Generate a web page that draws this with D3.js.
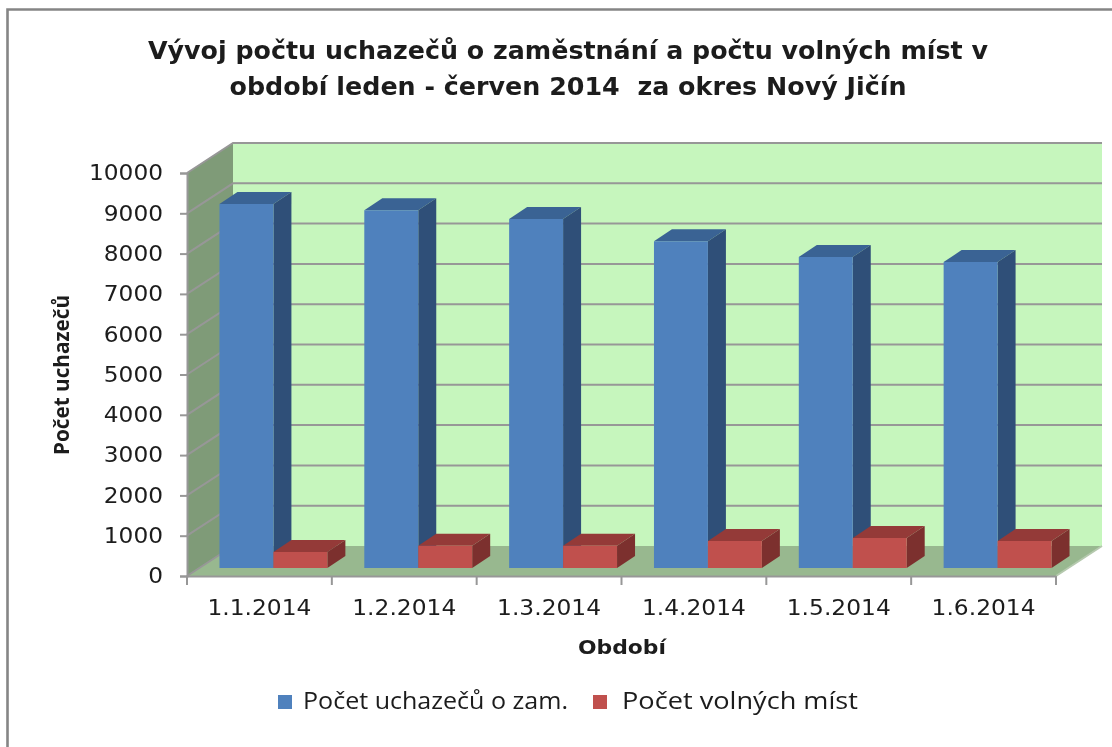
<!DOCTYPE html>
<html><head><meta charset="utf-8">
<script src="https://cdn.jsdelivr.net/npm/d3@7"></script>
<style>
html,body{margin:0;padding:0;background:#fff}
svg{display:block;filter:blur(0.5px)}
text{font-family:"DejaVu Sans",sans-serif;fill:#1c1c1c}
</style></head><body>
<svg id="c" width="1112" height="747"></svg>
<script>
const categories = ["1.1.2014","1.2.2014","1.3.2014","1.4.2014","1.5.2014","1.6.2014"];
const uchazeci = [9030,8880,8660,8110,7720,7590];
const volnaMista = [400,550,550,670,745,670];
const yTicks = [0,1000,2000,3000,4000,5000,6000,7000,8000,9000,10000];
const titleLines = ["Vývoj počtu uchazečů o zaměstnání a počtu volných míst v","období leden - červen 2014  za okres Nový Jičín"];
const seriesNames = ["Počet uchazečů o zam.","Počet volných míst"];

const svg = d3.select("#c");
const L=187,R=1056,B=576,T=173, DX=46,DY=30;     // front plane + wall depth
const bdx=18,bdy=12, ox=14,oy=8;                 // bar depth + inset of the bar plane
const x = d3.scaleBand().domain(categories).range([L,R]).paddingInner(0.255).paddingOuter(0.1275);
const y = d3.scaleLinear().domain([0,10000]).range([B,T]);
const grid="#979797";
const poly=(pts,fill)=>svg.append("polygon").attr("points",pts.map(p=>p.join(",")).join(" ")).attr("fill",fill);

// frame
svg.append("path").attr("d","M7.5,747V9.5H1112").attr("fill","none").attr("stroke","#858585").attr("stroke-width",2.6);

// walls
poly([[L+DX,T-DY],[R+DX,T-DY],[R+DX,B-DY],[L+DX,B-DY]],"#c6f6bd");
poly([[L,T],[L+DX,T-DY],[L+DX,B-DY],[L,B]],"#7f9b78");
poly([[L,B],[L+DX,B-DY],[R+DX,B-DY],[R,B]],"#98b88f");

// gridlines
const gl=svg.append("g").attr("fill","none").attr("stroke",grid).attr("stroke-width",2);
yTicks.forEach(v=>{
  const p = v===0 ? `M${L},${y(v)}L${L+DX},${y(v)-DY}` : `M${L},${y(v)}L${L+DX},${y(v)-DY}H${R+DX}`;
  gl.append("path").attr("d",p);
});
gl.append("path").attr("d",`M${R},${B}L${R+DX},${B-DY}`).attr("stroke","#b5c9ae");

// bars
function bar(x0,w,v,c){
  const xl=x0+ox, xr=xl+w, yb=B-oy, yt=y(v)-oy;
  poly([[xl,yt],[xl+bdx,yt-bdy],[xr+bdx,yt-bdy],[xr,yt]],c[2]);
  poly([[xr,yt],[xr+bdx,yt-bdy],[xr+bdx,yb-bdy],[xr,yb]],c[1]);
  poly([[xl,yt],[xr,yt],[xr,yb],[xl,yb]],c[0]);
}
const blue=["#4f81bd","#2f4f78","#3a6394"], red=["#c0504d","#7c302e","#943a38"];
categories.forEach((d,i)=>{
  const w=x.bandwidth()/2;
  bar(x(d),w,uchazeci[i],blue);
  bar(x(d)+w,w,volnaMista[i],red);
});

// axes
const ya=svg.append("g").attr("transform",`translate(${L},0)`)
  .call(d3.axisLeft(y).tickValues(yTicks).tickSize(7).tickPadding(17).tickFormat(d3.format("d")));
ya.selectAll("text").attr("font-size",21.5).attr("fill","#1c1c1c").attr("font-family",'"DejaVu Sans"')
  .attr("textLength",d=>String(d).length*14.8).attr("lengthAdjust","spacingAndGlyphs");
const xa=svg.append("g").attr("transform",`translate(0,${B})`)
  .call(d3.axisBottom(x).tickSize(0).tickPadding(24));
xa.selectAll("text").attr("font-size",21.5).attr("fill","#1c1c1c").attr("font-family",'"DejaVu Sans"')
  .attr("textLength",104).attr("lengthAdjust","spacingAndGlyphs");
[ya,xa].forEach(a=>{a.selectAll("path.domain").attr("stroke",grid).attr("stroke-width",2);a.selectAll("line").attr("stroke",grid).attr("stroke-width",2);});
categories.concat("end").forEach((d,i)=>svg.append("line").attr("x1",L+i*(R-L)/6).attr("x2",L+i*(R-L)/6).attr("y1",B).attr("y2",B+9).attr("stroke",grid).attr("stroke-width",2));

// titles
svg.append("text").attr("x",568).attr("y",59).attr("text-anchor","middle").attr("font-size",25).attr("font-weight","bold").attr("textLength",840).attr("lengthAdjust","spacingAndGlyphs").text(titleLines[0]);
svg.append("text").attr("x",568).attr("y",95).attr("text-anchor","middle").attr("font-size",25).attr("font-weight","bold").attr("textLength",677).attr("lengthAdjust","spacingAndGlyphs").style("white-space","pre").text(titleLines[1]);
svg.append("text").attr("x",622).attr("y",654).attr("text-anchor","middle").attr("font-size",20).attr("font-weight","bold").attr("textLength",88).attr("lengthAdjust","spacingAndGlyphs").text("Období");
svg.append("text").attr("transform","translate(69,375) rotate(-90)").attr("text-anchor","middle").style("font-family",'"Open Sans"').attr("font-size",21).attr("font-weight","bold").attr("textLength",160).attr("lengthAdjust","spacingAndGlyphs").text("Počet uchazečů");

// legend
[[278,303,265,blue[0]],[593,622,236,red[0]]].forEach((l,i)=>{
  svg.append("rect").attr("x",l[0]).attr("y",695).attr("width",14).attr("height",14).attr("fill",l[3]);
  svg.append("text").attr("x",l[1]).attr("y",709).style("font-family",'"Open Sans"').attr("font-size",23).attr("textLength",l[2]).attr("lengthAdjust","spacingAndGlyphs").text(seriesNames[i]);
});
</script></body></html>
